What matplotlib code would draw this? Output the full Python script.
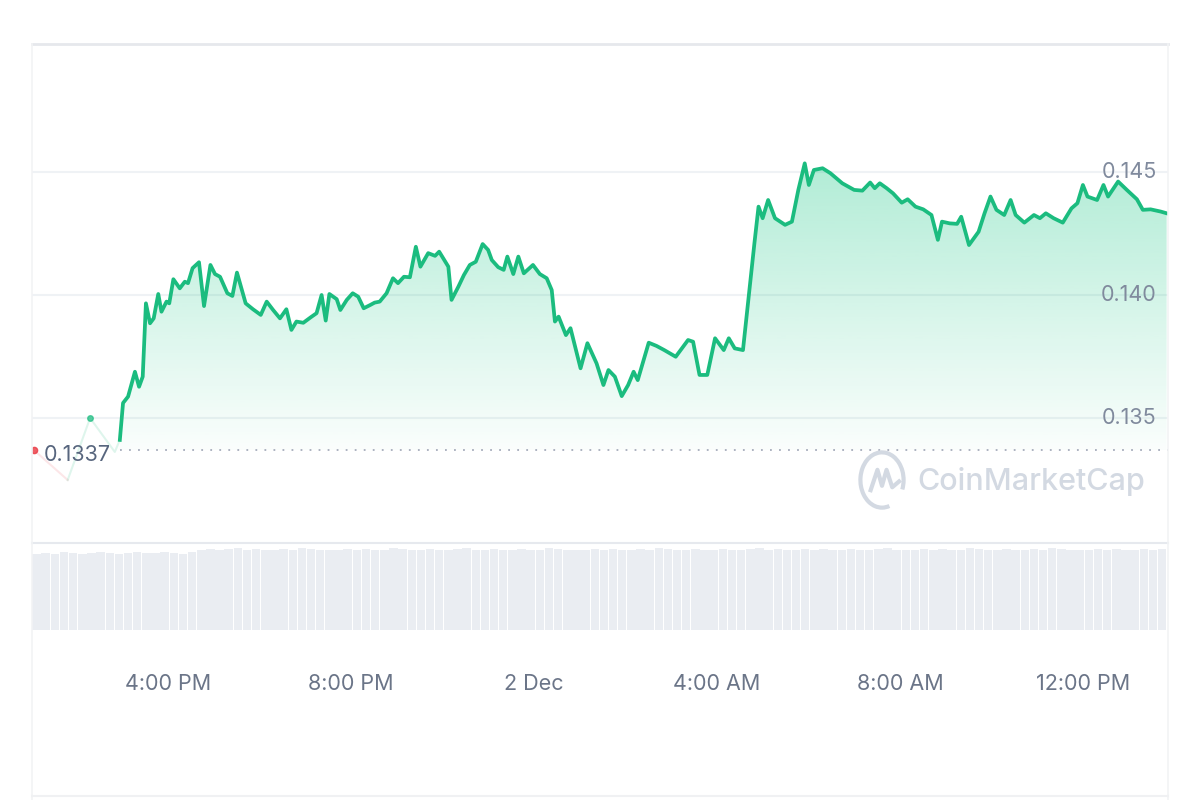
import numpy as np
import matplotlib
matplotlib.use('Agg')
import matplotlib.pyplot as plt
from matplotlib.lines import Line2D
from matplotlib.patches import Arc

plt.rcParams['font.family'] = ['Inter', 'DejaVu Sans']

# hours since 00:00 on 1 Dec (24 = 2 Dec midnight)
pre_t = [13.07, 13.81, 14.30, 14.84]
pre_p = [0.13370, 0.13248, 0.13500, 0.13362]

t = [14.95, 15.02, 15.13, 15.28, 15.37, 15.45, 15.52, 15.61, 15.69, 15.79, 15.86, 15.97,
     16.03, 16.12, 16.26, 16.37, 16.44, 16.54, 16.68, 16.79, 16.93, 17.03, 17.14, 17.30,
     17.41, 17.51, 17.70, 17.86, 18.03, 18.16, 18.30, 18.45, 18.59, 18.70, 18.81, 18.96,
     19.12, 19.25, 19.36, 19.45, 19.53, 19.69, 19.77, 19.91, 20.04, 20.16, 20.28, 20.42,
     20.52, 20.63, 20.78, 20.92, 21.03, 21.16, 21.29, 21.42, 21.52, 21.69, 21.84, 21.93,
     22.13, 22.20, 22.35, 22.47, 22.60, 22.73, 22.88, 23.00, 23.08, 23.22, 23.34, 23.42,
     23.55, 23.66, 23.78, 23.98, 24.13, 24.28, 24.39, 24.46, 24.54, 24.70, 24.80, 25.02,
     25.17, 25.37, 25.52, 25.63, 25.77, 25.92, 26.06, 26.18, 26.27, 26.51, 26.68, 26.85,
     27.10, 27.37, 27.48, 27.62, 27.79, 27.96, 28.15, 28.26, 28.39, 28.57, 28.71, 28.82,
     28.91, 29.00, 29.12, 29.27, 29.49, 29.64, 29.78, 29.92, 30.01, 30.12, 30.31, 30.48,
     30.74, 31.00, 31.18, 31.35, 31.45, 31.56, 31.71, 31.85, 32.04, 32.17, 32.34, 32.51,
     32.69, 32.83, 32.92, 33.09, 33.25, 33.34, 33.51, 33.72, 33.85, 33.98, 34.11, 34.28,
     34.42, 34.53, 34.72, 34.93, 35.06, 35.19, 35.36, 35.56, 35.75, 35.88, 36.00, 36.10,
     36.31, 36.45, 36.55, 36.77, 36.96, 37.18, 37.31, 37.48, 37.70, 37.83]
p = [0.13411, 0.13561, 0.13587, 0.13688, 0.13627, 0.13668, 0.13966, 0.13885, 0.13905, 0.14004, 0.13932, 0.13973,
     0.13966, 0.14064, 0.14027, 0.14054, 0.14048, 0.14109, 0.14133, 0.13955, 0.14122, 0.14085, 0.14074, 0.14007,
     0.13996, 0.14091, 0.13966, 0.13942, 0.13919, 0.13973, 0.13939, 0.13905, 0.13942, 0.13858, 0.13892, 0.13887,
     0.13909, 0.13926, 0.14000, 0.13896, 0.14004, 0.13983, 0.13939, 0.13980, 0.14007, 0.13993, 0.13946, 0.13959,
     0.13969, 0.13973, 0.14007, 0.14068, 0.14048, 0.14074, 0.14072, 0.14196, 0.14115, 0.14170, 0.14159, 0.14176,
     0.14115, 0.13980, 0.14034, 0.14081, 0.14122, 0.14135, 0.14207, 0.14183, 0.14142, 0.14113, 0.14102, 0.14156,
     0.14085, 0.14156, 0.14088, 0.14122, 0.14085, 0.14068, 0.14020, 0.13892, 0.13912, 0.13837, 0.13865, 0.13702,
     0.13804, 0.13722, 0.13634, 0.13695, 0.13668, 0.13589, 0.13634, 0.13688, 0.13654, 0.13806, 0.13793, 0.13776,
     0.13749, 0.13817, 0.13810, 0.13675, 0.13675, 0.13824, 0.13776, 0.13824, 0.13783, 0.13776, 0.14020, 0.14210,
     0.14359, 0.14312, 0.14386, 0.14312, 0.14285, 0.14298, 0.14427, 0.14535, 0.14447, 0.14508, 0.14515, 0.14495,
     0.14454, 0.14427, 0.14424, 0.14457, 0.14434, 0.14454, 0.14434, 0.14413, 0.14375, 0.14389, 0.14359, 0.14348,
     0.14325, 0.14224, 0.14298, 0.14291, 0.14289, 0.14318, 0.14203, 0.14257, 0.14332, 0.14400, 0.14346, 0.14325,
     0.14386, 0.14325, 0.14294, 0.14325, 0.14312, 0.14332, 0.14312, 0.14294, 0.14352, 0.14373, 0.14447, 0.14400,
     0.14386, 0.14447, 0.14400, 0.14461, 0.14427, 0.14389, 0.14346, 0.14348, 0.14339, 0.14332]

base_price = 0.1337
base_label = '0.1337'

y_ticks = [0.135, 0.140, 0.145]
y_labels = ['0.135', '0.140', '0.145']
x_ticks = [16, 20, 24, 28, 32, 36]
x_labels = ['4:00 PM', '8:00 PM', '2 Dec', '4:00 AM', '8:00 AM', '12:00 PM']

# relative volume bar heights
vol = [0.93, 0.94, 0.93, 0.95, 0.94, 0.93, 0.94, 0.95, 0.94, 0.93, 0.94, 0.95, 0.94, 0.94, 0.95, 0.94,
       0.93, 0.95, 0.98, 0.99, 0.97, 0.99, 1.00, 0.98, 0.99, 0.98, 0.97, 0.99, 0.98, 1.00, 0.99, 0.98,
       0.97, 0.98, 0.99, 0.98, 0.99, 0.97, 0.98, 1.00, 0.99, 0.98, 0.98, 0.99, 0.97, 0.98, 0.99, 1.00,
       0.98, 0.97, 0.99, 0.98, 0.98, 0.99, 0.97, 0.98, 1.00, 0.99, 0.98, 0.97, 0.98, 0.99, 0.98, 0.99,
       0.97, 0.98, 0.99, 0.98, 1.00, 0.99, 0.98, 0.97, 0.99, 0.98, 0.98, 0.99, 0.97, 0.98, 0.99, 1.00,
       0.98, 0.99, 0.97, 0.98, 0.99, 0.98, 0.99, 0.98, 0.97, 0.99, 0.98, 0.98, 0.99, 1.00, 0.98, 0.97,
       0.98, 0.99, 0.98, 0.99, 0.97, 0.98, 1.00, 0.99, 0.98, 0.98, 0.99, 0.97, 0.98, 0.99, 0.98, 1.00,
       0.99, 0.98, 0.97, 0.98, 0.99, 0.98, 0.99, 0.98, 0.97, 0.99, 0.98, 0.99]

green = '#1bbc7f'
red = '#ea3943'
xmin, xmax = 13.03, 37.86


def fx(px):
    return px / 1200


def fy(py):
    return 1 - py / 800


fig = plt.figure(figsize=(12, 8), dpi=100)
fig.patch.set_facecolor('white')

ax = fig.add_axes([fx(32), fy(543), fx(1136), 499 / 800])
ax.set_xlim(xmin, xmax)
ax.set_ylim(0.12992, 0.15020)
for s in ['top', 'left', 'right']:
    ax.spines[s].set_visible(False)
ax.spines['bottom'].set_color('#e6e9ee')
ax.spines['bottom'].set_linewidth(1.5)
ax.set_xticks([])
ax.set_yticks([])

for v, lab in zip(y_ticks, y_labels):
    ax.axhline(v, color='#eff2f5', lw=1.5, zorder=0)
    ax.text(0.990, v, lab, transform=ax.get_yaxis_transform(), ha='right', va='center',
            fontsize=15.5, color='#808a9d', zorder=2)

# gradient fill under the price line
top = 0.1456
rgb = matplotlib.colors.to_rgb('#16c784')
img = np.zeros((256, 1, 4))
img[:, 0, :3] = rgb
img[:, 0, 3] = np.linspace(0.34, 0.02, 256)
im = ax.imshow(img, extent=[xmin, xmax, base_price, top], aspect='auto', origin='upper', zorder=1)
poly = ax.fill_between(t, p, base_price, color='none', lw=0)
im.set_clip_path(poly.get_paths()[0], transform=ax.transData)
ax.set_xlim(xmin, xmax)
ax.set_ylim(0.12992, 0.15020)

# faded lead-in segment
ax.plot(pre_t[:2], pre_p[:2], color=red, lw=1.5, alpha=0.12, zorder=2)
ax.plot(pre_t[1:] + [t[0]], pre_p[1:] + [p[0]], color=green, lw=1.5, alpha=0.14, zorder=2)
ax.plot([pre_t[0]], [pre_p[0]], 'o', color=red, ms=4.5, alpha=0.8, zorder=3)
ax.plot([pre_t[2]], [pre_p[2]], 'o', color=green, ms=4, alpha=0.7, zorder=3)

ax.plot(t, p, color=green, lw=2.7, solid_joinstyle='round', zorder=4)

# baseline
ax.plot([t[0], xmax], [base_price, base_price], color='#a6acbb', lw=1.3,
        linestyle=(0, (1, 4)), zorder=3)
ax.text(fx(44), fy(455), base_label, transform=fig.transFigure, ha='left', va='center',
        fontsize=15.5, color='#58667e', zorder=5)

# volume bars
vax = fig.add_axes([fx(32), fy(630), fx(1136), 82 / 800])
vt = 13.13 + 0.2 * np.arange(len(vol))
vax.bar(vt, vol, width=0.185, color='#eaedf2', lw=0)
vax.set_xlim(xmin, xmax)
vax.set_ylim(0, 1.0)
for s in vax.spines.values():
    s.set_visible(False)
vax.set_yticks([])
vax.set_xticks(x_ticks)
vax.set_xticklabels(x_labels, fontsize=15.5, color='#6b7588')
vax.tick_params(axis='x', length=0, pad=32)

# card outline
fig.add_artist(Line2D([fx(32), fx(1168)], [fy(44), fy(44)], color='#e6e8ec', lw=2))
fig.add_artist(Line2D([fx(32), fx(32)], [fy(44), fy(800)], color='#f2f3f5', lw=1.2))
fig.add_artist(Line2D([fx(1168), fx(1168)], [fy(44), fy(800)], color='#f2f3f5', lw=1.2))
fig.add_artist(Line2D([fx(32), fx(1168)], [fy(796), fy(796)], color='#f0f1f3', lw=1.5))

# watermark
wm = '#d3d9e2'
fig.text(fx(917), fy(482), 'CoinMarketCap', fontsize=22, color=wm, ha='left', va='center',
         weight='medium')
lax = fig.add_axes([fx(857), fy(512), fx(50), 64 / 800])
lax.set_xlim(-1.1, 1.1)
lax.set_ylim(-1.1, 1.1)
lax.axis('off')
lax.add_patch(Arc((0, 0), 1.9, 1.9, theta1=-20, theta2=290, color=wm, lw=3))
lax.plot([-0.5, -0.2, 0.0, 0.2, 0.45, 0.75], [-0.35, 0.35, -0.2, 0.35, -0.25, -0.05],
         color=wm, lw=3, solid_joinstyle='round')

fig.savefig('out.png', dpi=100, facecolor='white')
